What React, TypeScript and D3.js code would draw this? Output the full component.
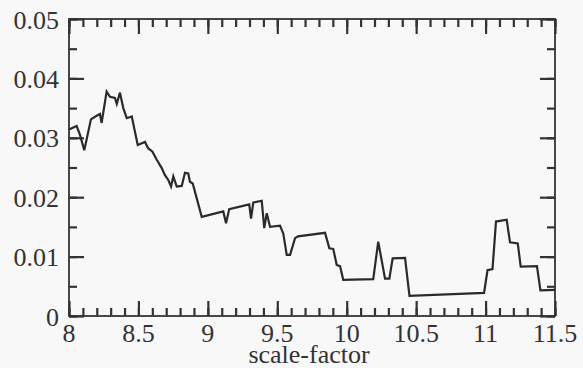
import { useRef, useEffect } from "react";
import * as d3 from "d3";

// values (scale-factor vs. value)
const scaleFactor = [
  8.0, 8.055, 8.079, 8.11, 8.158, 8.199, 8.223, 8.235, 8.271, 8.295, 8.331, 8.344,
  8.367, 8.391, 8.416, 8.452, 8.495, 8.547, 8.571, 8.6, 8.632, 8.668, 8.691, 8.715,
  8.735, 8.751, 8.776, 8.812, 8.835, 8.859, 8.871, 8.891, 8.956, 9.111, 9.131, 9.154,
  9.298, 9.311, 9.327, 9.388, 9.406, 9.424, 9.448, 9.52, 9.543, 9.568, 9.592, 9.628,
  9.649, 9.844, 9.875, 9.903, 9.928, 9.952, 9.975, 10.191, 10.227, 10.276, 10.307,
  10.331, 10.42, 10.452, 10.989, 11.014, 11.05, 11.075, 11.152, 11.176, 11.232,
  11.253, 11.37, 11.395, 11.5,
];
const values = [
  0.0314, 0.032, 0.0305, 0.0279, 0.0331, 0.0337, 0.034, 0.0325, 0.0378, 0.0369,
  0.0367, 0.0357, 0.0376, 0.035, 0.0333, 0.0336, 0.0288, 0.0293, 0.0282, 0.0277,
  0.0263, 0.0249, 0.0237, 0.0229, 0.0218, 0.0235, 0.0218, 0.0219, 0.0241, 0.024,
  0.0226, 0.0223, 0.0167, 0.0176, 0.0156, 0.018, 0.0188, 0.0164, 0.0191, 0.0194,
  0.0148, 0.0173, 0.015, 0.0152, 0.0139, 0.0103, 0.0103, 0.0131, 0.0134, 0.014,
  0.0114, 0.0113, 0.0086, 0.0084, 0.0061, 0.0062, 0.0125, 0.0063, 0.0063, 0.0097,
  0.0098, 0.0034, 0.0039, 0.0077, 0.0079, 0.0159, 0.0162, 0.0124, 0.0122, 0.0083,
  0.0084, 0.0043, 0.0044,
];
const xTickLabels = ["8", "8.5", "9", "9.5", "10", "10.5", "11", "11.5"];
const yTickLabels = ["0", "0.01", "0.02", "0.03", "0.04", "0.05"];
const xLabel = "scale-factor";

const width = 583;
const height = 368;
const margin = { top: 19, right: 28, bottom: 52, left: 69 };
const ink = "#333";
const font = "'Liberation Serif', 'Times New Roman', serif";

const App = () => {
  const svgRef = useRef<SVGSVGElement>(null);

  useEffect(() => {
    const svg = d3.select(svgRef.current);
    svg.selectAll("*").remove();

    const x = d3.scaleLinear().domain([8, 11.5]).range([margin.left, width - margin.right]);
    const y = d3.scaleLinear().domain([0, 0.05]).range([height - margin.bottom, margin.top]);
    const x0 = margin.left;
    const x1 = width - margin.right;
    const y0 = height - margin.bottom;
    const y1 = margin.top;

    svg.append("rect").attr("width", width).attr("height", height).attr("fill", "#f8f8f8");

    const xMajor = xTickLabels.map(Number);
    const xMinor = d3.range(0, 36).map((i) => 8 + i * 0.1);
    const yMajor = yTickLabels.map(Number);
    const yMinor = d3.range(0, 11).map((i) => i * 0.005);

    const styleAxis = (g: any) => {
      g.select(".domain").remove();
      g.selectAll("text").remove();
      g.selectAll("line").attr("stroke", ink).attr("stroke-width", 2.2);
    };

    // inward ticks on every side (minor first, then major)
    const addAxes = (size: number, xv: number[], yv: number[]) => {
      svg
        .append("g")
        .attr("transform", `translate(0,${y0})`)
        .call(d3.axisBottom(x).tickValues(xv).tickSizeInner(-size).tickSizeOuter(0))
        .call(styleAxis);
      svg
        .append("g")
        .attr("transform", `translate(0,${y1})`)
        .call(d3.axisTop(x).tickValues(xv).tickSizeInner(-size).tickSizeOuter(0))
        .call(styleAxis);
      svg
        .append("g")
        .attr("transform", `translate(${x0},0)`)
        .call(d3.axisLeft(y).tickValues(yv).tickSizeInner(-size).tickSizeOuter(0))
        .call(styleAxis);
      svg
        .append("g")
        .attr("transform", `translate(${x1},0)`)
        .call(d3.axisRight(y).tickValues(yv).tickSizeInner(-size).tickSizeOuter(0))
        .call(styleAxis);
    };
    addAxes(8, xMinor, yMinor);
    addAxes(15, xMajor, yMajor);

    svg
      .append("rect")
      .attr("x", x0)
      .attr("y", y1)
      .attr("width", x1 - x0)
      .attr("height", y0 - y1)
      .attr("fill", "none")
      .attr("stroke", ink)
      .attr("stroke-width", 1.8);

    // tick labels
    svg
      .append("g")
      .selectAll("text")
      .data(xTickLabels)
      .join("text")
      .attr("x", (d) => x(+d))
      .attr("y", y0 + 26)
      .attr("text-anchor", "middle")
      .attr("font-family", font)
      .attr("font-size", 26)
      .attr("fill", ink)
      .text((d) => d);

    svg
      .append("g")
      .selectAll("text")
      .data(yTickLabels)
      .join("text")
      .attr("x", x0 - 10)
      .attr("y", (d) => y(+d) + 9.5)
      .attr("text-anchor", "end")
      .attr("font-family", font)
      .attr("font-size", 26)
      .attr("fill", ink)
      .text((d) => d);

    svg
      .append("text")
      .attr("x", (x0 + x1) / 2 - 3)
      .attr("y", 363)
      .attr("text-anchor", "middle")
      .attr("font-family", font)
      .attr("font-size", 26)
      .attr("fill", ink)
      .text(xLabel);

    const points: [number, number][] = scaleFactor.map((s, i) => [s, values[i]]);
    const line = d3
      .line<[number, number]>()
      .x((d) => x(d[0]))
      .y((d) => y(d[1]));

    svg
      .append("path")
      .datum(points)
      .attr("d", line)
      .attr("fill", "none")
      .attr("stroke", "#2a2a2a")
      .attr("stroke-width", 2.2)
      .attr("stroke-linejoin", "miter");
  }, []);

  return (
    <svg
      ref={svgRef}
      width={width}
      height={height}
      style={{ position: "absolute", left: 0, top: 0, display: "block" }}
    ></svg>
  );
};

export default App;
